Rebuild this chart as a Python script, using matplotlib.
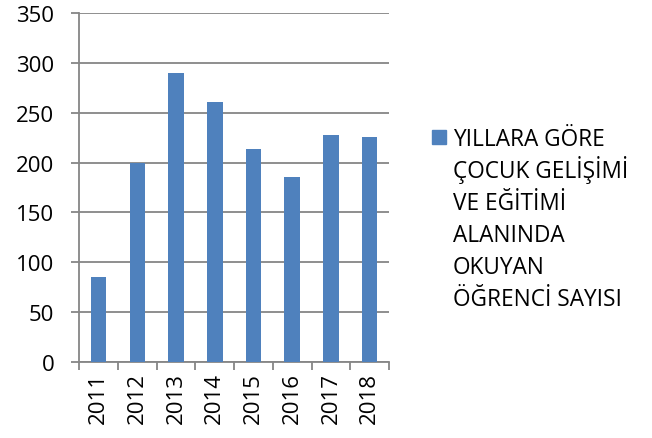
import matplotlib.pyplot as plt
from matplotlib.patches import Rectangle
import numpy as np

plt.rcParams['font.family'] = ['Open Sans', 'DejaVu Sans']

years = ["2011", "2012", "2013", "2014", "2015", "2016", "2017", "2018"]
counts = [85, 200, 290, 261, 214, 186, 228, 226]
series_lines = ["YILLARA GÖRE", "ÇOCUK GELİŞİMİ", "VE EĞİTİMİ",
                "ALANINDA", "OKUYAN", "ÖĞRENCİ SAYISI"]

BAR_COLOR = "#4F81BD"
GRID_COLOR = "#868686"
W, H = 652, 439

fig = plt.figure(figsize=(W / 100, H / 100), dpi=100)
ax = fig.add_axes([0.1216, 0.1731, 0.4750, 0.7949])

x = np.arange(len(years))
ax.bar(x, counts, width=0.4, color=BAR_COLOR, zorder=3)

ax.set_xlim(-0.5, len(years) - 0.5)
ax.set_ylim(0, 350)
ax.set_yticks(np.arange(0, 351, 50))
ax.yaxis.grid(True, color=GRID_COLOR, linewidth=1.3, zorder=0)

# category boundary ticks on x, labels at category centers
ax.set_xticks(np.arange(-0.5, len(years), 1.0))
ax.set_xticklabels([])
ax.set_xticks(x, minor=True)
ax.set_xticklabels(years, minor=True, rotation=90)
ax.tick_params(axis="x", which="major", length=6, width=1.3, color=GRID_COLOR)
ax.tick_params(axis="x", which="minor", length=0, pad=7, labelsize=16)
ax.tick_params(axis="y", length=6, width=1.3, color=GRID_COLOR, pad=12, labelsize=16)

for side in ("top", "right"):
    ax.spines[side].set_visible(False)
for side in ("left", "bottom"):
    ax.spines[side].set_color(GRID_COLOR)
    ax.spines[side].set_linewidth(1.3)

# legend: square key + label lines (pixel positions from top-left)
fig.add_artist(Rectangle((432 / W, 1 - 145 / H), 14 / W, 14 / H,
                         transform=fig.transFigure, color=BAR_COLOR))
for i, line in enumerate(series_lines):
    baseline = 146 + i * 32.1
    fig.text(453 / W, 1 - baseline / H, line, fontsize=16.3, va="baseline", ha="left")

fig.savefig("out.png", dpi=100)
